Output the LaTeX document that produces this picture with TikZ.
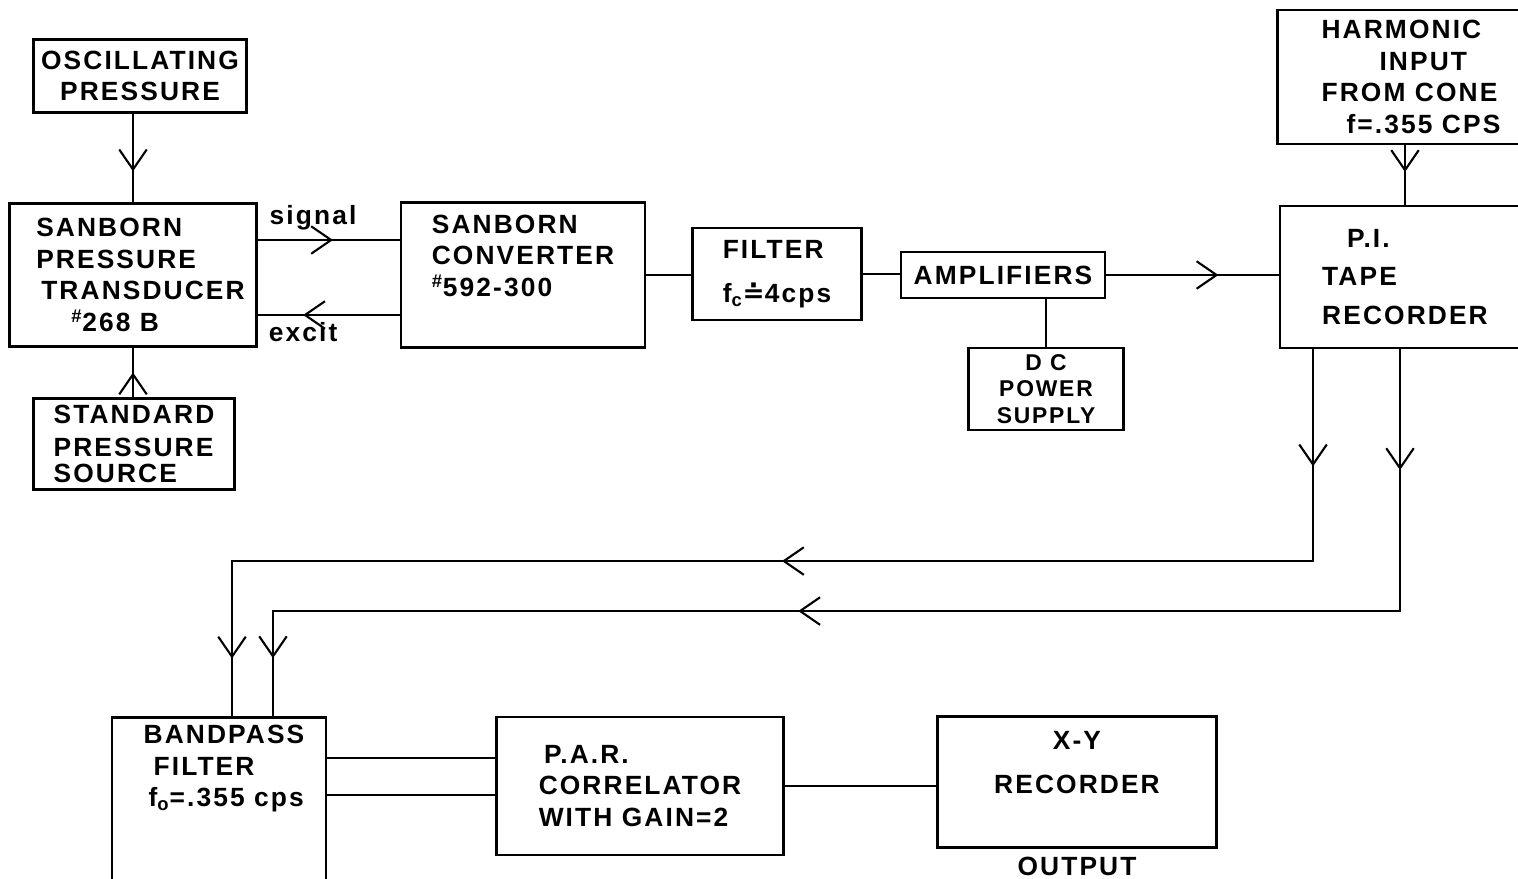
\documentclass[tikz,border=0pt]{standalone}
\usepackage{fontspec}
\setmainfont{Liberation Sans}[LetterSpace=8]
\newfontfamily\symfont{DejaVu Sans}
\usetikzlibrary{arrows.meta, decorations.markings, positioning}

\begin{document}
\begin{tikzpicture}[x=0.02cm, y=-0.02cm,
  >={Straight Barb[length=0.4cm, width=0.55cm]},
  font=\bfseries\fontsize{15}{18}\selectfont,
  blk/.style={draw, line width=1.2pt, inner sep=0pt, align=left},
  wire/.style={line width=1.2pt},
  midarrow/.style={postaction={decorate},
    decoration={markings, mark=at position #1 with {\arrow{>}}}}]
%% 1 unit = 1 px of the 1518 x 879 sheet, y grows downwards
%% Rows (y):  ~77 inputs  |  ~275 main chain  |  560/610 return lines  |  ~790 analysis

\useasboundingbox (0,0) rectangle (1518,879);
\clip (0,0) rectangle (1518,879);

%% ---- Pressure side ----
\node[blk, align=center, minimum width=4.26cm, minimum height=1.46cm] (osc) at (140,76)
  {OSCILLATING\\PRESSURE};
\node[blk, minimum width=4.94cm, minimum height=2.86cm] (xdcr) at (133,275)
  {\hspace{0.3cm}SANBORN\\\hspace{0.3cm}PRESSURE\\\hspace{0.4cm}TRANSDUCER\\\hspace{1cm}\textsuperscript{\#}268 B};
\node[blk, minimum width=4.02cm, minimum height=1.82cm] (stdsrc) at (134,444)
  {STANDARD\\[1pt]PRESSURE\\[-3pt]SOURCE};

%% ---- Main chain ----
\node[blk, minimum width=4.88cm, minimum height=2.9cm] (conv) at (523,275)
  {SANBORN\\CONVERTER\\\textsuperscript{\#}592-300\\[4pt]\mbox{}};
\node[blk, minimum width=3.38cm, minimum height=1.84cm] (filt) at (777,274)
  {FILTER\\[7pt]f\textsubscript{c}{\symfont ≐}4cps};
\node[blk, align=center, minimum width=4.08cm, minimum height=0.92cm] (amp) at (1003,275)
  {AMPLIFIERS};
\node[blk, align=center, minimum width=3.1cm, minimum height=1.64cm,
  font=\bfseries\fontsize{13}{15}\selectfont] (dcps) at (1046,389)
  {D C\\POWER\\SUPPLY};

%% ---- Recorder (runs off the right edge) ----
\node[blk, minimum width=5.34cm, minimum height=2.68cm] (harm) at (1411,77)
  {HARMONIC\\\hspace{1.16cm}INPUT\\FROM CONE\\\hspace{0.5cm}f=.355 CPS};
\node[blk, minimum width=5cm, minimum height=2.84cm] (tape) at (1405,277)
  {\hspace{0.5cm}P.I.\\[4pt]TAPE\\[4pt]RECORDER};

%% ---- Analysis row ----
\node[blk, minimum width=4.28cm, minimum height=3.34cm] (bpf) at (219,801)
  {\hspace{0.2cm}BANDPASS\\\hspace{0.4cm}FILTER\\\hspace{0.3cm}f\textsubscript{o}=.355 cps\\[22pt]\mbox{}};
\node[blk, minimum width=5.74cm, minimum height=2.76cm] (par) at (640,786)
  {\hspace{3pt}P.A.R.\\CORRELATOR\\WITH GAIN=2};
\node[blk, align=center, minimum width=5.58cm, minimum height=2.62cm] (xy) at (1077,782)
  {X-Y\\[7pt]RECORDER\\[4pt]\mbox{}};
\node[below=0.05cm of xy] (out) {OUTPUT};

%% ---- Connectors, top half ----
\draw[wire, midarrow=0.65] (xdcr.north |- osc.south) -- (xdcr.north);
\draw[wire, midarrow=0.5] (xdcr.south |- stdsrc.north) -- (xdcr.south);
\draw[wire, midarrow=0.53] ([yshift=0.7cm]xdcr.east) -- ([yshift=0.7cm]xdcr.east -| conv.west)
  node[above=2pt, pos=0.39] (sig) {signal};
\draw[wire, midarrow=0.68] ([yshift=-0.8cm]conv.west) -- ([yshift=-0.8cm]conv.west -| xdcr.east)
  node[below=0pt, pos=0.68] (exc) {excit};
\draw[wire] (conv.east) -- (conv.east -| filt.west);
\draw[wire] (filt.east) -- (filt.east -| amp.west);
\draw[wire, midarrow=0.65] (amp.east) -- (amp.east -| tape.west);
\draw[wire] (dcps.north |- amp.south) -- (dcps.north);
\draw[wire, midarrow=0.45] (tape.north |- harm.south) -- (tape.north);

%% ---- Return lines from the tape recorder ----
\draw[wire, postaction={decorate}, decoration={markings,
    mark=at position 0.081 with {\arrow{>}},
    mark=at position 0.513 with {\arrow{>}},
    mark=at position 0.96 with {\arrow{>}}}]
  ([xshift=-1.84cm]tape.south) -- ++(0,212) -| ([xshift=0.26cm]bpf.north);
\draw[wire, postaction={decorate}, decoration={markings,
    mark=at position 0.081 with {\arrow{>}},
    mark=at position 0.578 with {\arrow{>}},
    mark=at position 0.961 with {\arrow{>}}}]
  ([xshift=-0.1cm]tape.south) -- ++(0,262) -| ([xshift=1.08cm]bpf.north);

%% ---- Connectors, bottom row ----
\draw[wire] ([yshift=0.56cm]par.west -| bpf.east) -- ([yshift=0.56cm]par.west);
\draw[wire] ([yshift=-0.18cm]par.west -| bpf.east) -- ([yshift=-0.18cm]par.west);
\draw[wire] (par.east) -- (par.east -| xy.west);
\end{tikzpicture}
\end{document}
